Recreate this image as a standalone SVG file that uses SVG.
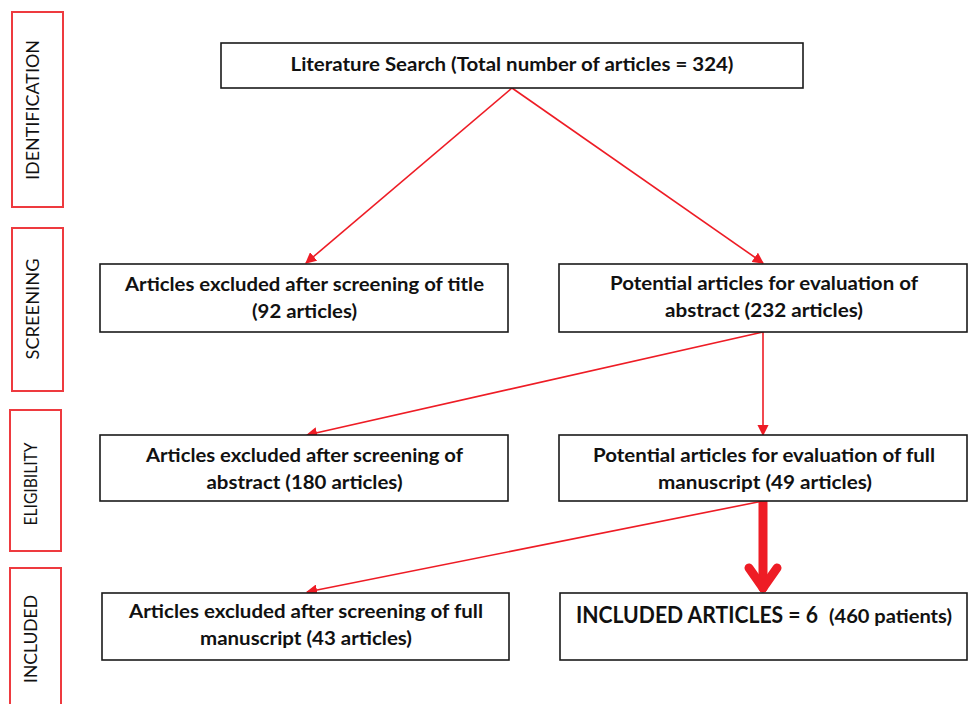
<svg xmlns="http://www.w3.org/2000/svg" width="968" height="704" viewBox="0 0 968 704">
<style>
.stage{fill:#fff;stroke:#EE3A3F;stroke-width:2}
.stxt{font-family:Lato,"Liberation Sans",sans-serif;font-size:18px;fill:#111;text-anchor:middle}
.box{fill:#fff;stroke:#1a1a1a;stroke-width:1.6}
.t{font-family:Lato,"Liberation Sans",sans-serif;font-weight:bold;font-size:18px;fill:#111;text-anchor:middle}
.tl{font-family:Lato,"Liberation Sans",sans-serif;font-weight:bold;fill:#111}
.ln{stroke:#EE1C25;stroke-width:1.6;fill:none;marker-end:url(#ah)}
</style>
<defs>
<marker id="ah" viewBox="0 0 10 10" refX="9" refY="5" markerWidth="7" markerHeight="7" markerUnits="strokeWidth" orient="auto">
<path d="M0,0 L10,5 L0,10 z" fill="#EE1C25"/>
</marker>
</defs>
<rect width="968" height="704" fill="#fff"/>

<g id="stage-identification">
<rect class="stage" x="12" y="12" width="51" height="195"/>
<text class="stxt" transform="translate(38.5,110) rotate(-90)" textLength="140" lengthAdjust="spacingAndGlyphs">IDENTIFICATION</text>
</g>
<g id="stage-screening">
<rect class="stage" x="12" y="228" width="51" height="163"/>
<text class="stxt" transform="translate(38.5,309) rotate(-90)" textLength="101" lengthAdjust="spacingAndGlyphs">SCREENING</text>
</g>
<g id="stage-eligibility">
<rect class="stage" x="10" y="410" width="51" height="141"/>
<text class="stxt" transform="translate(37,484) rotate(-90)" textLength="83" lengthAdjust="spacingAndGlyphs">ELIGIBILITY</text>
</g>
<g id="stage-included">
<rect class="stage" x="10" y="568" width="51" height="150"/>
<text class="stxt" transform="translate(37,639) rotate(-90)" textLength="88" lengthAdjust="spacingAndGlyphs">INCLUDED</text>
</g>

<g id="connectors">
<line class="ln" x1="512" y1="88" x2="306" y2="263"/>
<line class="ln" x1="512" y1="88" x2="763" y2="263"/>
<line class="ln" x1="763" y1="332" x2="307" y2="435"/>
<line class="ln" x1="763" y1="332" x2="763" y2="435"/>
<line class="ln" x1="763" y1="501" x2="307" y2="592"/>
<g id="thick-arrow" stroke="#EE1C25" stroke-width="9" fill="none" stroke-linecap="round" stroke-linejoin="round">
<line x1="763" y1="502" x2="763" y2="588"/>
<polyline points="749,568 763,588 777,568"/>
</g>
</g>

<g id="n-search">
<rect class="box" x="221" y="43" width="582" height="45"/>
<text class="t" x="512" y="71" textLength="443" lengthAdjust="spacingAndGlyphs">Literature Search (Total number of articles = 324)</text>
</g>
<g id="n-excl-title">
<rect class="box" x="100" y="264" width="408" height="68"/>
<text class="t" x="304.5" y="291" textLength="359" lengthAdjust="spacingAndGlyphs">Articles excluded after screening of title</text>
<text class="t" x="304.5" y="318" textLength="105" lengthAdjust="spacingAndGlyphs">(92 articles)</text>
</g>
<g id="n-pot-abstract">
<rect class="box" x="559" y="264" width="408" height="68"/>
<text class="t" x="764" y="290" textLength="308" lengthAdjust="spacingAndGlyphs">Potential articles for evaluation of</text>
<text class="t" x="764" y="317" textLength="198" lengthAdjust="spacingAndGlyphs">abstract (232 articles)</text>
</g>
<g id="n-excl-abstract">
<rect class="box" x="100" y="435" width="408" height="66"/>
<text class="t" x="304.5" y="462" textLength="317" lengthAdjust="spacingAndGlyphs">Articles excluded after screening of</text>
<text class="t" x="304.5" y="489" textLength="196" lengthAdjust="spacingAndGlyphs">abstract (180 articles)</text>
</g>
<g id="n-pot-full">
<rect class="box" x="559" y="435" width="408" height="66"/>
<text class="t" x="764" y="462" textLength="342" lengthAdjust="spacingAndGlyphs">Potential articles for evaluation of full</text>
<text class="t" x="765" y="489" textLength="214" lengthAdjust="spacingAndGlyphs">manuscript (49 articles)</text>
</g>
<g id="n-excl-full">
<rect class="box" x="102" y="593" width="407" height="67"/>
<text class="t" x="306" y="618" textLength="354" lengthAdjust="spacingAndGlyphs">Articles excluded after screening of full</text>
<text class="t" x="306" y="645" textLength="212" lengthAdjust="spacingAndGlyphs">manuscript (43 articles)</text>
</g>
<g id="n-included">
<rect class="box" x="560" y="593" width="407" height="67"/>
<text class="tl" x="576" y="623" font-size="23" textLength="242" lengthAdjust="spacingAndGlyphs">INCLUDED ARTICLES = 6</text>
<text class="tl" x="829" y="623" font-size="18" textLength="123" lengthAdjust="spacingAndGlyphs">(460 patients)</text>
</g>
</svg>
